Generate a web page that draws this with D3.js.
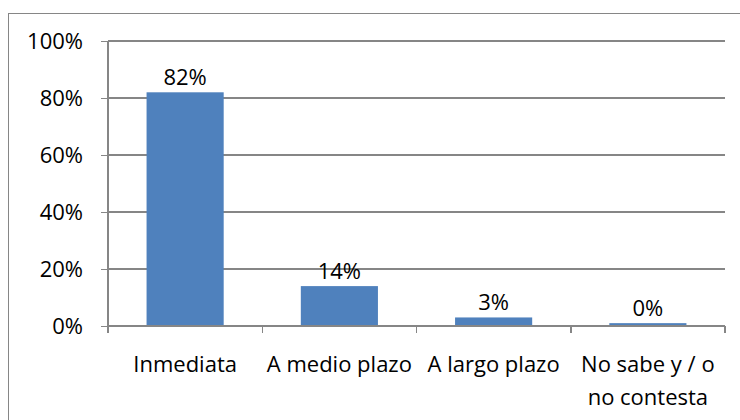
<!DOCTYPE html>
<html lang="es">
  <head>
    <meta charset="utf-8"/>
    <script src="https://cdnjs.cloudflare.com/ajax/libs/d3/7.8.5/d3.min.js"></script>
    <style>
      body {
        margin: 0;
        background: #fff;
        font-family: "Open Sans", sans-serif;
      }
      .axis path, .axis line {
        stroke: #868686;
        stroke-width: 1.5px;
        shape-rendering: crispEdges;
      }
      .grid line {
        stroke: #868686;
        stroke-width: 1.5px;
        shape-rendering: crispEdges;
      }
    </style>
  </head>
  <body>
    <script>
      // data
      var categories = ["Inmediata", "A medio plazo", "A largo plazo", "No sabe y / o no contesta"];
      var values = [0.82, 0.14, 0.03, 0.01];
      var valueLabels = ["82%", "14%", "3%", "0%"];
      var yTicks = [0, 0.2, 0.4, 0.6, 0.8, 1.0];

      var w = 740, h = 420;
      var plotLeft = 108, plotRight = 725, plotTop = 41, plotBottom = 326;
      var fontSize = 22;

      var svg = d3.select("body")
                  .append("svg")
                  .attr("width", w)
                  .attr("height", h);

      // outer chart border
      svg.append("rect")
         .attr("x", 8.5)
         .attr("y", 13.5)
         .attr("width", w)
         .attr("height", h)
         .attr("fill", "none")
         .attr("stroke", "#868686")
         .attr("stroke-width", 1);

      var xScale = d3.scaleBand()
                     .domain(categories)
                     .range([plotLeft, plotRight])
                     .paddingInner(0.5)
                     .paddingOuter(0.25);

      var yScale = d3.scaleLinear()
                     .domain([0, 1])
                     .range([plotBottom, plotTop]);

      // horizontal gridlines
      svg.append("g")
         .attr("class", "grid")
         .selectAll("line")
         .data(yTicks.filter(function(t) { return t > 0; }))
         .enter()
         .append("line")
         .attr("x1", plotLeft)
         .attr("x2", plotRight)
         .attr("y1", function(d) { return yScale(d); })
         .attr("y2", function(d) { return yScale(d); });

      // bars
      svg.selectAll(".bar")
         .data(values)
         .enter()
         .append("rect")
         .attr("class", "bar")
         .attr("x", function(d, i) { return xScale(categories[i]); })
         .attr("y", function(d) { return yScale(d); })
         .attr("width", xScale.bandwidth())
         .attr("height", function(d) { return plotBottom - yScale(d); })
         .attr("fill", "#4F81BD");

      // value labels
      svg.selectAll(".vlabel")
         .data(values)
         .enter()
         .append("text")
         .attr("class", "vlabel")
         .attr("x", function(d, i) { return xScale(categories[i]) + xScale.bandwidth() / 2; })
         .attr("y", function(d) { return yScale(d) - 7; })
         .attr("text-anchor", "middle")
         .attr("font-size", fontSize + "px")
         .attr("fill", "#000")
         .text(function(d, i) { return valueLabels[i]; });

      // y axis
      var yAxis = d3.axisLeft(yScale)
                    .tickValues(yTicks)
                    .tickFormat(d3.format(".0%"))
                    .tickSize(7)
                    .tickPadding(18);
      var gy = svg.append("g")
                  .attr("class", "axis")
                  .attr("transform", "translate(" + plotLeft + ",0)")
                  .call(yAxis);
      gy.select(".domain").attr("d", "M0," + plotTop + "V" + plotBottom);
      gy.selectAll("text")
        .attr("font-size", fontSize + "px")
        .attr("font-family", "Open Sans, sans-serif")
        .attr("fill", "#000");

      // x axis, ticks between categories
      var xAxisG = svg.append("g")
                      .attr("class", "axis");
      xAxisG.append("line")
            .attr("x1", plotLeft)
            .attr("x2", plotRight)
            .attr("y1", plotBottom)
            .attr("y2", plotBottom);
      var step = xScale.step();
      xAxisG.selectAll(".xtick")
            .data(d3.range(categories.length + 1))
            .enter()
            .append("line")
            .attr("class", "xtick")
            .attr("x1", function(i) { return plotLeft + i * step; })
            .attr("x2", function(i) { return plotLeft + i * step; })
            .attr("y1", plotBottom)
            .attr("y2", plotBottom + 7);

      // category labels, wrapped to the band
      var catText = svg.selectAll(".cat")
                       .data(categories)
                       .enter()
                       .append("text")
                       .attr("class", "cat")
                       .attr("text-anchor", "middle")
                       .attr("font-size", fontSize + "px")
                       .attr("fill", "#000");

      catText.each(function(d) {
        var t = d3.select(this);
        var cx = xScale(d) + xScale.bandwidth() / 2;
        var words = d.split(" ");
        var lines = [], line = [];
        var probe = t.append("tspan");
        words.forEach(function(word) {
          line.push(word);
          probe.text(line.join(" "));
          if (probe.node().getComputedTextLength() > step && line.length > 1) {
            line.pop();
            lines.push(line.join(" "));
            line = [word];
          }
        });
        lines.push(line.join(" "));
        probe.remove();
        lines.forEach(function(l, k) {
          t.append("tspan")
           .attr("x", cx)
           .attr("y", 372 + k * 33)
           .text(l);
        });
      });
    </script>
  </body>
</html>
